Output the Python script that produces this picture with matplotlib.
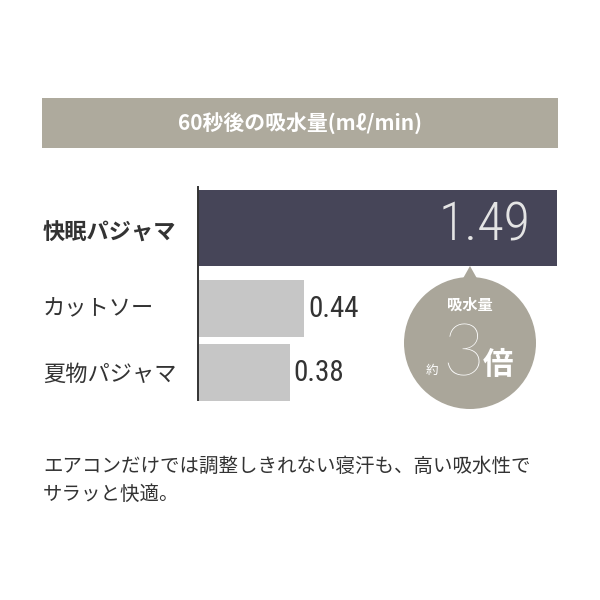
import matplotlib
matplotlib.use("Agg")
import matplotlib.pyplot as plt
from matplotlib import font_manager as fm
from matplotlib.patches import Rectangle, Circle, Polygon

# ---------------- data ----------------
categories = ["快眠パジャマ", "カットソー", "夏物パジャマ"]
values = [1.49, 0.44, 0.38]
value_labels = ["1.49", "0.44", "0.38"]
title_text = "60秒後の吸水量(mℓ/min)"
badge_top = "吸水量"
badge_pre = "約"
badge_num = "3"
badge_post = "倍"
caption_lines = ["エアコンだけでは調整しきれない寝汗も、高い吸水性で", "サラッと快適。"]


def pick(fams, default="DejaVu Sans"):
    for f in fams:
        try:
            fm.findfont(fm.FontProperties(family=f), fallback_to_default=False)
            return f
        except Exception:
            pass
    return default


JP = "Noto Sans CJK JP"
NUM = pick(["Roboto Condensed", "Liberation Sans Narrow", "DejaVu Sans Condensed", "Roboto"])
THIN = pick(["Lato", "Roboto", "Open Sans"])
plt.rcParams["font.family"] = [JP, "DejaVu Sans"]

DARK = "#464558"
GRAY = "#c6c6c6"
BAND = "#aeaa9d"
BADGE = "#aaa69a"
TXT = "#333333"

fig = plt.figure(figsize=(6, 6), dpi=100)
fig.patch.set_facecolor("white")

# background axes in pixel coordinates
bg = fig.add_axes([0, 0, 1, 1])
bg.set_xlim(0, 600)
bg.set_ylim(600, 0)
bg.axis("off")

# title band
bg.add_patch(Rectangle((42, 98), 516, 50, facecolor=BAND, edgecolor="none"))
bg.text(300, 124, title_text, color="white", fontsize=15, fontweight="bold",
        ha="center", va="center")

# bar chart axes: spans x 198..557, y 187..400 px
top_px, bot_px = 187, 400
left_px, right_px = 198, 557
ax = fig.add_axes([left_px / 600, (600 - bot_px) / 600,
                   (right_px - left_px) / 600, (bot_px - top_px) / 600])
ax.set_xlim(0, max(values))
ax.set_ylim(bot_px, top_px)
ax.patch.set_alpha(0)
for s in ["top", "right", "bottom"]:
    ax.spines[s].set_visible(False)
ax.spines["left"].set_color("#333333")
ax.spines["left"].set_linewidth(1.4)
ax.set_xticks([])
ax.set_yticks([])

ypos = [228, 308.5, 372.5]
heights = [76, 57, 57]
colors = [DARK, GRAY, GRAY]
bars = ax.barh(ypos, values, height=heights, color=colors, edgecolor="none", zorder=2)
for b in bars:
    b.set_clip_on(False)

# value labels
ax.annotate(value_labels[0], xy=(values[0], ypos[0]), xytext=(-27, 2),
            textcoords="offset pixels", ha="right", va="center",
            fontsize=39, color="#e4e4e4", family=NUM, fontweight="light",
            annotation_clip=False)
for i in (1, 2):
    ax.annotate(value_labels[i], xy=(values[i], ypos[i]), xytext=(4, 0),
                textcoords="offset pixels", ha="left", va="center",
                fontsize=21, color=TXT, family=NUM, annotation_clip=False)

# category labels
label_y = [233, 309, 374]
for i, (c, y) in enumerate(zip(categories, label_y)):
    bg.text(43, y, c, fontsize=16, color=TXT, ha="left", va="center",
            fontweight="bold" if i == 0 else "normal")

# badge
bg.add_patch(Polygon([(461, 282), (479, 282), (470, 266)], closed=True,
                     facecolor=BADGE, edgecolor="none", zorder=3))
bg.add_patch(Circle((470, 343), 66, facecolor=BADGE, edgecolor="none", zorder=3))
bg.text(470, 305, badge_top, color="white", fontsize=11, fontweight="bold",
        ha="center", va="center", zorder=4)
bg.text(432, 370, badge_pre, color="white", fontsize=9,
        ha="center", va="center", zorder=4)
bg.text(463, 356, badge_num, color="white", fontsize=52, family=THIN,
        fontweight=100, ha="center", va="center", zorder=4)
bg.text(498, 365, badge_post, color="white", fontsize=22, fontweight="bold",
        ha="center", va="center", zorder=4)

# caption
for y, line in zip([466, 494], caption_lines):
    bg.text(43, y, line, fontsize=14, color=TXT, ha="left", va="center")

fig.savefig("out.png", dpi=100, facecolor="white")
